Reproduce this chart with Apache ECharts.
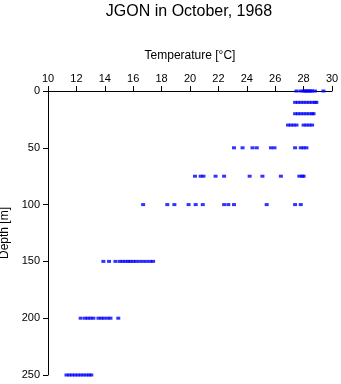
<!DOCTYPE html>
<html>
<head>
<meta charset="utf-8">
<script src="https://cdn.jsdelivr.net/npm/echarts@6/dist/echarts.min.js"></script>
<style>
html,body{margin:0;padding:0;background:#fff;}
#chart{width:341px;height:384px;}
</style>
</head>
<body>
<div id="chart"></div>
<script>
// Depth levels [m]
var depths = [0, 10, 20, 30, 50, 75, 100, 150, 200, 250];
// Temperatures [°C] observed at each depth level
var t0   = [27.5, 27.8, 28.0, 28.1, 28.2, 28.3, 28.4, 28.5, 28.6, 28.8, 29.4];
var t10  = [27.4, 27.6, 27.8, 28.0, 28.2, 28.4, 28.6, 28.8, 28.9];
var t20  = [27.4, 27.6, 27.8, 28.0, 28.2, 28.4, 28.6, 28.7];
var t30  = [26.9, 27.1, 27.3, 27.5, 28.0, 28.2, 28.4, 28.6];
var t50  = [23.1, 23.7, 24.4, 24.7, 25.7, 25.95, 27.4, 27.8, 28.0, 28.2];
var t75  = [20.35, 20.75, 20.95, 21.8, 22.4, 24.2, 25.1, 26.4, 27.7, 27.9, 28.0];
var t100 = [16.7, 18.4, 18.9, 19.9, 20.4, 20.9, 22.4, 22.7, 23.1, 25.4, 27.4, 27.8];
var t150 = [13.9, 14.3, 14.75, 15.05, 15.25, 15.45, 15.65, 15.8, 16.0, 16.2, 16.45, 16.7, 16.95, 17.2, 17.4];
var t200 = [12.3, 12.6, 12.8, 13.0, 13.2, 13.55, 13.75, 13.95, 14.2, 14.4, 14.95];
var t250 = [11.3, 11.5, 11.7, 11.9, 12.1, 12.3, 12.5, 12.7, 12.9, 13.05];
var tempsByDepth = [t0, t10, t20, t30, t50, t75, t100, t150, t200, t250];

var xTicks = [10, 12, 14, 16, 18, 20, 22, 24, 26, 28, 30];
var yTicks = [0, 50, 100, 150, 200, 250];

var points = [];
depths.forEach(function (d, i) {
  tempsByDepth[i].forEach(function (t) { points.push([t, d]); });
});

var font = 'Liberation Sans, Arial, sans-serif';
var chart = echarts.init(document.getElementById('chart'), null, {renderer: 'canvas'});
chart.setOption({
  animation: false,
  backgroundColor: '#ffffff',
  title: {
    text: 'JGON in October, 1968',
    left: 184, textAlign: 'center', top: -1,
    textStyle: {fontFamily: font, fontSize: 16, fontWeight: 'normal', color: '#000'}
  },
  grid: {left: 48, right: 9, top: 91, bottom: 9, containLabel: false, outerBoundsMode: 'none'},
  xAxis: {
    type: 'value', position: 'top',
    min: xTicks[0], max: xTicks[xTicks.length - 1], interval: 2,
    name: 'Temperature [°C]', nameLocation: 'middle', nameGap: 29,
    nameTextStyle: {fontFamily: font, fontSize: 12, color: '#000'},
    axisLine: {show: true, lineStyle: {color: '#000', width: 1}},
    axisTick: {show: true, inside: false, length: 5, lineStyle: {color: '#000'}},
    axisLabel: {fontFamily: font, fontSize: 11, color: '#000', margin: 7},
    splitLine: {show: false}
  },
  yAxis: {
    type: 'value', inverse: true,
    min: yTicks[0], max: yTicks[yTicks.length - 1], interval: 50,
    name: 'Depth [m]', nameLocation: 'middle', nameGap: 35, nameRotate: 90,
    nameTextStyle: {fontFamily: font, fontSize: 12, color: '#000'},
    axisLine: {show: true, lineStyle: {color: '#000', width: 1}},
    axisTick: {show: true, inside: false, length: 5, lineStyle: {color: '#000'}},
    axisLabel: {fontFamily: font, fontSize: 11, color: '#000', margin: 8},
    splitLine: {show: false}
  },
  series: [{
    type: 'scatter',
    data: points,
    symbol: 'rect',
    symbolSize: [4, 3],
    itemStyle: {color: '#0000ff'},
    clip: false
  }]
});
</script>
</body>
</html>
